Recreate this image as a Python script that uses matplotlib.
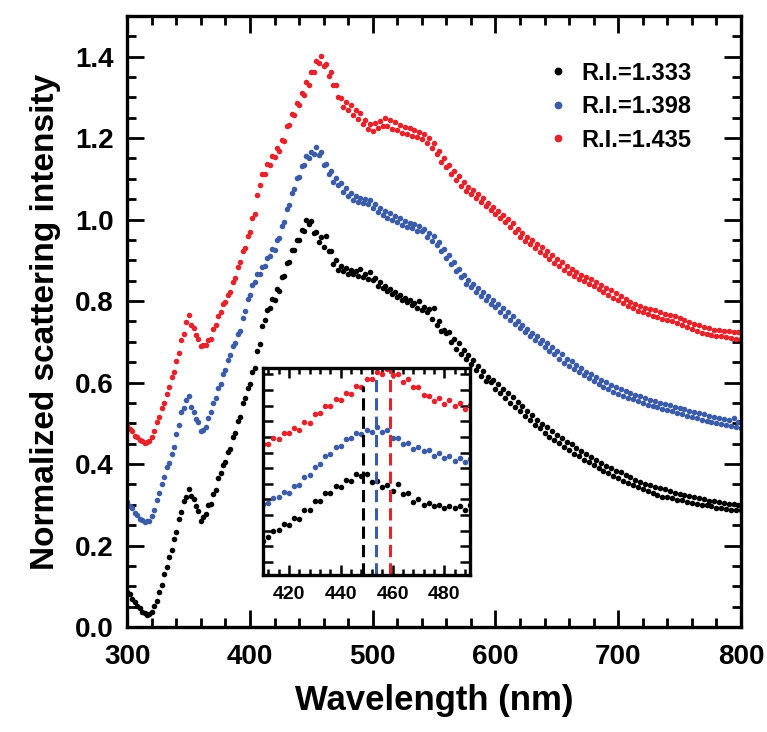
import matplotlib
matplotlib.use('Agg')
import matplotlib.pyplot as plt
import numpy as np
from matplotlib.ticker import MultipleLocator

plt.rcParams['font.family'] = ['Liberation Sans', 'DejaVu Sans']
plt.rcParams['font.weight'] = 'bold'

# wavelength grid (nm), 2 nm steps
wl = np.arange(300, 801, 2)

# normalized scattering intensity
ri_1333 = [
    0.086, 0.080, 0.068, 0.062, 0.051, 0.047, 0.037, 0.035, 0.029, 0.032,
    0.037, 0.051, 0.063, 0.085, 0.103, 0.130, 0.148, 0.171, 0.188, 0.215,
    0.232, 0.265, 0.283, 0.309, 0.318, 0.338, 0.322, 0.313, 0.296, 0.284,
    0.259, 0.271, 0.278, 0.299, 0.302, 0.326, 0.337, 0.366, 0.377, 0.397,
    0.406, 0.430, 0.437, 0.466, 0.476, 0.505, 0.516, 0.549, 0.561, 0.587,
    0.596, 0.627, 0.636, 0.677, 0.694, 0.739, 0.754, 0.778, 0.784, 0.805,
    0.803, 0.829, 0.824, 0.860, 0.861, 0.894, 0.895, 0.925, 0.926, 0.951,
    0.949, 0.975, 0.972, 0.998, 0.990, 0.996, 0.968, 0.970, 0.946, 0.956,
    0.933, 0.960, 0.922, 0.923, 0.891, 0.901, 0.877, 0.886, 0.874, 0.880,
    0.867, 0.876, 0.866, 0.873, 0.861, 0.878, 0.859, 0.866, 0.855, 0.872,
    0.851, 0.856, 0.837, 0.846, 0.833, 0.838, 0.825, 0.830, 0.817, 0.823,
    0.809, 0.816, 0.803, 0.808, 0.797, 0.803, 0.791, 0.796, 0.783, 0.800,
    0.777, 0.786, 0.773, 0.780, 0.756, 0.782, 0.742, 0.750, 0.727, 0.730,
    0.721, 0.723, 0.699, 0.708, 0.683, 0.696, 0.671, 0.680, 0.657, 0.668,
    0.646, 0.656, 0.631, 0.640, 0.617, 0.628, 0.604, 0.614, 0.601, 0.606,
    0.585, 0.596, 0.574, 0.584, 0.563, 0.574, 0.551, 0.564, 0.541, 0.553,
    0.531, 0.542, 0.519, 0.530, 0.508, 0.520, 0.497, 0.509, 0.488, 0.498,
    0.477, 0.490, 0.467, 0.480, 0.459, 0.471, 0.451, 0.463, 0.442, 0.455,
    0.434, 0.448, 0.425, 0.440, 0.419, 0.432, 0.411, 0.425, 0.405, 0.417,
    0.398, 0.410, 0.391, 0.403, 0.384, 0.396, 0.377, 0.390, 0.371, 0.384,
    0.365, 0.380, 0.359, 0.374, 0.353, 0.368, 0.348, 0.362, 0.343, 0.356,
    0.338, 0.352, 0.333, 0.348, 0.328, 0.344, 0.323, 0.342, 0.320, 0.338,
    0.318, 0.333, 0.317, 0.330, 0.312, 0.326, 0.311, 0.323, 0.308, 0.322,
    0.305, 0.319, 0.303, 0.316, 0.300, 0.313, 0.299, 0.310, 0.296, 0.309,
    0.293, 0.306, 0.291, 0.304, 0.289, 0.302, 0.288, 0.301, 0.287, 0.300,
    0.286]

ri_1398 = [
    0.307, 0.296, 0.291, 0.280, 0.276, 0.266, 0.263, 0.257, 0.259, 0.261,
    0.272, 0.286, 0.312, 0.328, 0.352, 0.369, 0.393, 0.402, 0.424, 0.441,
    0.473, 0.495, 0.528, 0.538, 0.558, 0.566, 0.541, 0.528, 0.511, 0.503,
    0.482, 0.484, 0.491, 0.513, 0.527, 0.551, 0.562, 0.586, 0.597, 0.622,
    0.632, 0.656, 0.667, 0.689, 0.697, 0.719, 0.727, 0.759, 0.776, 0.805,
    0.816, 0.840, 0.846, 0.866, 0.867, 0.884, 0.886, 0.906, 0.911, 0.927,
    0.926, 0.950, 0.955, 0.985, 0.995, 1.026, 1.035, 1.066, 1.075, 1.101,
    1.105, 1.131, 1.135, 1.156, 1.150, 1.167, 1.160, 1.178, 1.158, 1.166,
    1.134, 1.137, 1.113, 1.118, 1.093, 1.102, 1.084, 1.090, 1.068, 1.078,
    1.058, 1.066, 1.047, 1.058, 1.044, 1.054, 1.041, 1.050, 1.037, 1.047,
    1.029, 1.037, 1.018, 1.029, 1.011, 1.022, 1.005, 1.016, 0.998, 1.009,
    0.993, 1.004, 0.987, 0.997, 0.981, 0.992, 0.980, 0.989, 0.971, 0.983,
    0.971, 0.977, 0.958, 0.967, 0.948, 0.959, 0.938, 0.945, 0.923, 0.927,
    0.905, 0.912, 0.891, 0.895, 0.873, 0.879, 0.858, 0.865, 0.843, 0.852,
    0.834, 0.843, 0.823, 0.833, 0.813, 0.822, 0.803, 0.812, 0.793, 0.803,
    0.785, 0.793, 0.773, 0.783, 0.763, 0.773, 0.753, 0.763, 0.743, 0.752,
    0.733, 0.742, 0.723, 0.732, 0.713, 0.722, 0.705, 0.715, 0.696, 0.705,
    0.688, 0.697, 0.678, 0.687, 0.669, 0.677, 0.659, 0.669, 0.649, 0.659,
    0.641, 0.652, 0.633, 0.643, 0.625, 0.635, 0.618, 0.627, 0.611, 0.621,
    0.603, 0.614, 0.597, 0.607, 0.590, 0.601, 0.585, 0.595, 0.578, 0.589,
    0.573, 0.585, 0.568, 0.580, 0.563, 0.575, 0.559, 0.570, 0.554, 0.566,
    0.550, 0.562, 0.546, 0.558, 0.542, 0.554, 0.539, 0.551, 0.535, 0.548,
    0.532, 0.544, 0.529, 0.541, 0.525, 0.538, 0.522, 0.535, 0.519, 0.531,
    0.516, 0.528, 0.513, 0.525, 0.509, 0.522, 0.506, 0.519, 0.503, 0.516,
    0.500, 0.513, 0.498, 0.510, 0.495, 0.508, 0.493, 0.512, 0.490, 0.503,
    0.488]

ri_1435 = [
    0.495, 0.486, 0.482, 0.470, 0.467, 0.458, 0.456, 0.451, 0.454, 0.457,
    0.467, 0.480, 0.503, 0.515, 0.538, 0.550, 0.573, 0.588, 0.613, 0.627,
    0.653, 0.672, 0.704, 0.718, 0.748, 0.765, 0.741, 0.733, 0.716, 0.708,
    0.689, 0.691, 0.692, 0.704, 0.707, 0.732, 0.741, 0.764, 0.772, 0.792,
    0.797, 0.816, 0.822, 0.846, 0.857, 0.884, 0.896, 0.922, 0.931, 0.960,
    0.970, 1.004, 1.014, 1.061, 1.084, 1.112, 1.113, 1.137, 1.133, 1.156,
    1.153, 1.175, 1.168, 1.196, 1.193, 1.229, 1.232, 1.260, 1.257, 1.287,
    1.282, 1.310, 1.306, 1.337, 1.331, 1.363, 1.362, 1.390, 1.383, 1.402,
    1.378, 1.381, 1.352, 1.361, 1.331, 1.330, 1.301, 1.298, 1.276, 1.289,
    1.268, 1.281, 1.257, 1.270, 1.246, 1.262, 1.235, 1.245, 1.222, 1.235,
    1.217, 1.236, 1.224, 1.243, 1.230, 1.249, 1.229, 1.244, 1.223, 1.239,
    1.219, 1.233, 1.213, 1.228, 1.209, 1.224, 1.204, 1.220, 1.202, 1.216,
    1.198, 1.209, 1.188, 1.199, 1.176, 1.188, 1.160, 1.168, 1.142, 1.150,
    1.128, 1.135, 1.113, 1.120, 1.098, 1.106, 1.083, 1.092, 1.071, 1.079,
    1.063, 1.072, 1.053, 1.062, 1.043, 1.053, 1.033, 1.041, 1.023, 1.032,
    1.013, 1.022, 1.003, 1.012, 0.993, 1.002, 0.981, 0.991, 0.969, 0.978,
    0.958, 0.968, 0.948, 0.958, 0.939, 0.950, 0.931, 0.940, 0.921, 0.932,
    0.913, 0.922, 0.903, 0.912, 0.893, 0.903, 0.885, 0.895, 0.876, 0.886,
    0.868, 0.879, 0.861, 0.872, 0.855, 0.865, 0.848, 0.859, 0.842, 0.853,
    0.836, 0.847, 0.829, 0.839, 0.821, 0.832, 0.815, 0.826, 0.808, 0.819,
    0.802, 0.812, 0.794, 0.804, 0.787, 0.797, 0.782, 0.792, 0.776, 0.787,
    0.772, 0.784, 0.768, 0.780, 0.764, 0.777, 0.760, 0.773, 0.756, 0.769,
    0.753, 0.766, 0.750, 0.763, 0.746, 0.759, 0.742, 0.754, 0.737, 0.749,
    0.732, 0.744, 0.727, 0.740, 0.722, 0.736, 0.719, 0.733, 0.717, 0.730,
    0.715, 0.729, 0.713, 0.727, 0.711, 0.726, 0.709, 0.725, 0.708, 0.724,
    0.706]

labels = ['R.I.=1.333', 'R.I.=1.398', 'R.I.=1.435']
colors = ['black', '#3b5ca9', '#e4232b']
series = [ri_1333, ri_1398, ri_1435]

# peak positions marked in the inset (nm)
peaks = [448.5, 453.5, 459.0]
peak_top = [0.91, 0.965, 1.0]

fig = plt.figure(figsize=(7.67, 7.32), dpi=100)
ax = fig.add_axes([0.166, 0.1434, 0.800, 0.835])

for y, c, lab in zip(series, colors, labels):
    ax.plot(wl, y, 'o', ms=4.0, c=c, markeredgewidth=0, label=lab)

ax.set_xlim(300, 800)
ax.set_ylim(0, 1.5)
ax.xaxis.set_major_locator(MultipleLocator(100))
ax.xaxis.set_minor_locator(MultipleLocator(20))
ax.set_yticks(np.arange(0, 1.41, 0.2))
ax.set_yticklabels([f'{v:.1f}' for v in np.arange(0, 1.41, 0.2)])
ax.yaxis.set_minor_locator(MultipleLocator(0.05))
ax.tick_params(which='both', direction='in', top=True, right=True, width=2,
               labelsize=20)
ax.tick_params(axis='x', pad=12)
ax.tick_params(axis='y', pad=10)
ax.tick_params(which='major', length=12)
ax.tick_params(which='minor', length=6.5)
for s in ax.spines.values():
    s.set_linewidth(2.4)

ax.set_xlabel('Wavelength (nm)', fontsize=25, fontweight='bold', labelpad=10)
ax.set_ylabel('Normalized scattering intensity', fontsize=24, fontweight='bold', labelpad=10)

ax.legend(loc='upper left', bbox_to_anchor=(0.655, 0.96), frameon=False,
          markerscale=1.4, handlelength=0.6, handletextpad=0.7,
          labelspacing=0.45, prop={'size': 17, 'weight': 'bold'})

# inset: zoom on the peak region
ins = fig.add_axes([0.343, 0.2145, 0.270, 0.283])
for y, c in zip(series, colors):
    ins.plot(wl, y, 'o', ms=4.0, c=c, markeredgewidth=0)
for p, c, t in zip(peaks, colors, peak_top):
    ins.axvline(p, ymax=t, color=c, ls=(0, (4, 2)), lw=2.2)
ins.set_xlim(410, 490)
ins.set_ylim(0.61, 1.405)
ins.xaxis.set_major_locator(MultipleLocator(20))
ins.xaxis.set_minor_locator(MultipleLocator(4))
ins.yaxis.set_major_locator(MultipleLocator(0.06))
ins.set_yticklabels([])
ins.tick_params(which='both', direction='in', top=True, right=True, width=1.8,
                labelsize=14, pad=8)
ins.tick_params(which='major', length=7)
ins.tick_params(which='minor', length=4)
for s in ins.spines.values():
    s.set_linewidth(2.4)

fig.savefig('out.png', dpi=100)
